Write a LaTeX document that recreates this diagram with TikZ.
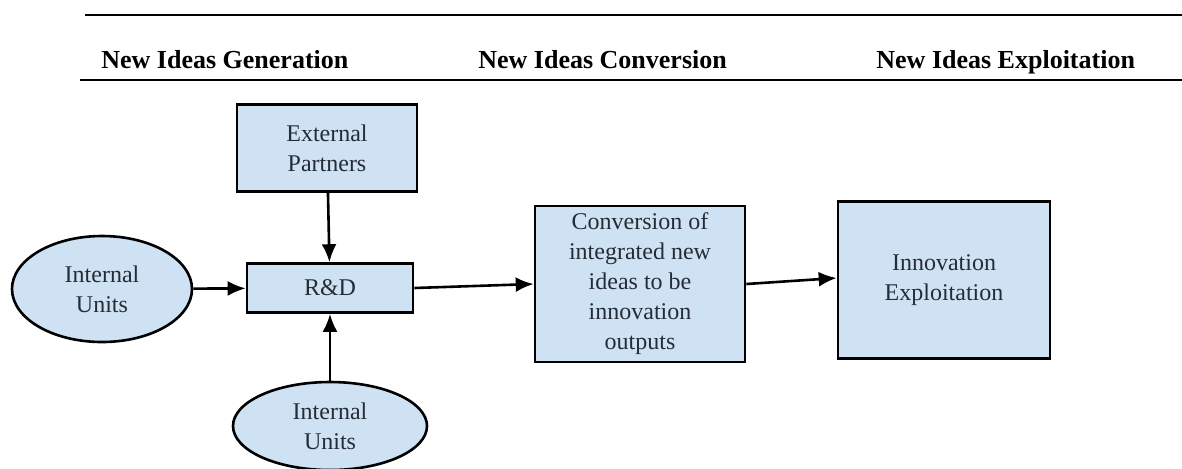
\documentclass[tikz,border=0pt]{standalone}
\usepackage{fontspec}
\setmainfont{Liberation Serif}
\usetikzlibrary{arrows.meta,positioning,shapes.geometric}
\definecolor{ideablue}{HTML}{CFE2F3}
\definecolor{ideatext}{HTML}{262C36}

\begin{document}
\begin{tikzpicture}[x=0.5pt,y=-0.5pt,
  every node/.style={font=\fontsize{12}{15}\selectfont,align=center,text=ideatext},
  box/.style={draw=black,fill=ideablue,line width=1.3pt,inner sep=2pt},
  unit/.style={ellipse,draw=black,fill=ideablue,line width=1.3pt,inner sep=0pt},
  phase/.style={font=\fontsize{13}{15}\bfseries\selectfont,text=black,anchor=base west,inner sep=0pt},
  rule/.style={line width=1.4pt},
  arr/.style={-{Latex[length=9pt,width=7.5pt]},line width=1.3pt}
]
\useasboundingbox (0,0) rectangle (1182,468);
% header rules and phase titles
\coordinate (ruleA) at (85,15);
\coordinate (ruleB) at (80,80);
\draw[rule] (ruleA) -- (ruleA -| 1182,0);
\draw[rule] (ruleB) -- (ruleB -| 1182,0);
\node[phase] (gen) at (101,68) {New Ideas Generation};
\node[phase] (conv-t) at (478,68) {New Ideas Conversion};
\node[phase] (expl-t) at (876,68) {New Ideas Exploitation};
% nodes
\node[box,minimum width=90pt,minimum height=43.5pt] (ext) at (327,148) {External\\Partners};
\node[box,minimum width=83pt,minimum height=24.5pt] (rd) at (330,288) {R\&D};
\node[unit,minimum width=90pt,minimum height=53pt] (intL) at (102,289) {Internal\\Units};
\node[unit,minimum width=97pt,minimum height=44pt] (intB) at (330,426) {Internal\\Units};
\node[box,minimum width=105pt,minimum height=78pt] (conv) at (640,284) {Conversion of\\integrated new\\ideas to be\\innovation\\outputs};
\node[box,minimum width=106pt,minimum height=78.5pt] (innov) at (944,280) {Innovation\\Exploitation};
% connectors
\draw[arr] (ext) -- (rd);
\draw[arr] (intL) -- (rd);
\draw[arr] (intB) -- (rd);
\draw[arr] (rd.east) -- (conv.west);
\draw[arr] (conv.east) -- ([yshift=1pt]innov.west);
\end{tikzpicture}
\end{document}
